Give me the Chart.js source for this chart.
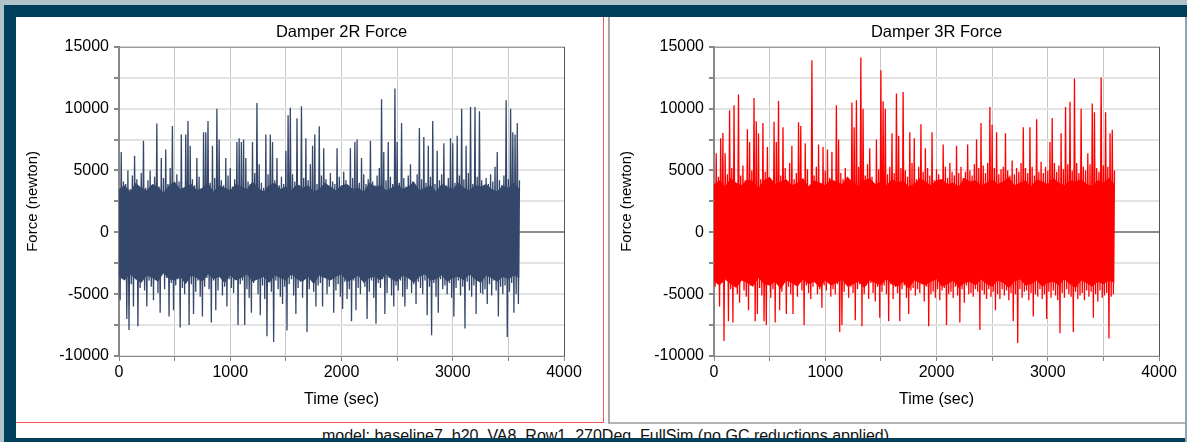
<!DOCTYPE html>
<html>
<head>
<meta charset="utf-8">
<script src="https://cdn.jsdelivr.net/npm/chart.js@4.4.1/dist/chart.umd.min.js"></script>
<style>
  html, body { margin: 0; padding: 0; }
  body {
    width: 1187px; height: 442px; position: relative; overflow: hidden;
    background: #afc3cb; font-family: "Liberation Sans", Arial, sans-serif;
  }
  #frame { position: absolute; left: 4px; top: 5px; width: 1183px; height: 437px; background: #003f5a; }
  #sheet { position: absolute; left: 16px; top: 17px; width: 1169px; height: 421px; background: #fff; overflow: hidden; }
  #edge { position: absolute; left: 1185px; top: 17px; width: 2px; height: 425px; background: #8ea7b3; }
  .panel { position: absolute; top: 0; height: 405px; }
  #p1 { left: 0; width: 587px; border-right: 1px solid #f25a5a; border-bottom: 1px solid #f25a5a; }
  #p2 { left: 592px; width: 577px; border-left: 2px solid #a8a8a8; border-bottom: 2px solid #b4b4b4; }
  .panel canvas { position: absolute; left: 0; top: 0; }
  #footer {
    position: absolute; left: 5px; width: 1169px; top: 409px; text-align: center;
    font-size: 16px; line-height: 19px; color: #111; white-space: nowrap;
  }
</style>
</head>
<body>
<div id="frame"></div>
<div id="sheet">
  <div class="panel" id="p1"><canvas id="c1" width="587" height="405"></canvas></div>
  <div class="panel" id="p2"><canvas id="c2" width="577" height="405"></canvas></div>
  <div id="footer">model: baseline7_b20_VA8_Row1_270Deg_FullSim (no GC reductions applied)</div>
</div>
<div id="edge"></div>
<script>
// Sample interval of the simulated force histories (seconds)
const sampleStep = 10;
// Interval of the dense-core envelope samples (seconds)
const bandStep = 50;

// Damper 2R force history (newton), one value per sample
const damper2R = [
  2800,-5500,6500,-3600,4100,-3000,3900,-7000,5000,-7900,
  3500,-4200,4600,-6000,6200,-3800,4300,-7600,3100,-4500,
  4800,-3300,7400,-4700,3600,-6000,4200,-3900,5000,-4400,
  3300,-5500,4500,-3500,8800,-4900,3700,-6500,6000,-3200,
  4400,-4600,6700,-3700,3900,-6800,5200,-4100,8600,-6300,
  3600,-4300,4700,-3800,4100,-7700,7900,-4500,3200,-5000,
  7900,-3600,9000,-7500,7000,-4200,4300,-6600,3800,-4800,
  6000,-3900,4500,-5200,3500,-6800,8100,-4400,8100,-3700,
  9000,-4600,4000,-7300,7000,-3900,4400,-6300,10000,-4700,
  7500,-3500,4200,-5100,3800,-4400,6000,-6000,4600,-3800,
  5200,-4500,3700,-4900,4300,-3600,7300,-7500,7600,-4200,
  7300,-3900,7500,-7500,6000,-4600,4100,-5300,3900,-6500,
  7300,-4100,4800,-3700,10460,-5000,5500,-6700,4000,-4300,
  3600,-5400,7900,-8400,4700,-4000,7900,-4800,7300,-8870,
  4200,-3900,6000,-4600,3800,-5200,4500,-5800,3900,-4400,
  6600,-7930,9460,-4200,10080,-3800,4700,-5100,4100,-6600,
  9220,-4500,3800,-4000,10190,-5300,4400,-3700,7600,-8060,
  4200,-4600,5500,-3900,7000,-4800,7900,-6000,3900,-4300,
  8570,-4100,4600,-6000,6800,-3700,4300,-5000,3600,-4400,
  4800,-3800,4100,-6500,3900,-4700,6800,-4200,4500,-5200,
  3700,-6200,4900,-4000,4200,-5400,3800,-4600,6800,-7200,
  4400,-3900,7300,-6300,7500,-4500,4000,-5000,6000,-3700,
  4700,-4400,3900,-7000,4300,-4800,7400,-3900,4100,-5300,
  3800,-7400,4600,-4100,5200,-4500,10760,-3800,6500,-6600,
  4200,-4900,7300,-3700,4500,-5100,3900,-6000,11620,-4300,
  7300,-4700,4000,-3900,8840,-5200,4400,-6000,3700,-4600,
  4600,-3800,5500,-4900,4100,-4200,3800,-5800,4700,-4000,
  8440,-4500,4300,-5000,7700,-3900,4000,-6700,7000,-4400,
  4500,-8330,9000,-4100,3900,-5200,6600,-6500,4200,-3800,
  4700,-4600,7200,-4300,3800,-5000,4400,-4100,7600,-5300,
  7200,-6800,4000,-4500,7800,-3900,4600,-5100,10000,-4400,
  4300,-7770,7000,-4000,4800,-4700,10130,-5200,3900,-4300,
  10130,-6600,4500,-3800,9790,-4900,4200,-5000,3700,-4600,
  4400,-5800,3900,-4200,4700,-5100,4100,-3900,5300,-4700,
  6500,-6800,4200,-4400,3800,-5000,4600,-4300,10680,-8470,
  4300,-4800,10000,-4100,8100,-6500,7900,-5000,8840,-5800,
  4200
];

// Damper 2R dense core: upper and lower edge of the solid band (newton)
const damper2RCoreHigh = [
  3500,3800,3300,4000,3600,3400,3900,3700,3200,3800,4100,3500,3700,3900,3400,3600,4000,3300,3800,3600,
  3400,3900,3700,3500,4100,3600,3300,3800,4000,3500,3700,3400,3900,3600,3800,3300,3500,4000,3700,3400,
  3800,3900,3500,3600,3300,4000,3700,3800,3400,3600,3900,3500,3700,4100,3400,3600,3800,3300,3900,3700,
  3500,4000,3600,3400,3800,3700,3900,3500,3300,3800,3600,4000,3500
];
const damper2RCoreLow = [
  -3600,-3900,-3400,-3800,-4100,-3500,-3700,-4000,-3300,-3800,-3900,-3600,-4200,-3500,-3700,-4000,-3400,-3800,-3600,-4100,
  -3500,-3900,-3700,-3400,-4000,-3800,-3600,-4100,-3500,-3700,-3900,-3400,-3800,-4000,-3600,-4200,-3500,-3700,-3900,-3600,
  -3400,-4000,-3800,-3500,-4100,-3700,-3600,-3900,-3400,-3800,-4000,-3500,-3700,-4100,-3600,-3400,-3900,-3800,-3500,-4000,
  -3700,-3600,-3900,-3400,-3800,-4100,-3500,-3700,-4000,-3600,-3800,-3500,-3700
];

// Damper 3R force history (newton), one value per sample
const damper3R = [
  3200,-4400,6400,-3800,4500,-6000,7600,-4100,8030,-8790,
  6400,-3900,4700,-7200,9870,-4600,5200,-7300,10270,-4200,
  3900,-5000,11140,-5700,4600,-3800,5400,-4700,4200,-5200,
  8330,-6300,7300,-4300,5000,-3900,10870,-7200,8980,-6600,
  8000,-4500,4300,-5100,8840,-7200,4900,-7500,6900,-4000,
  4400,-5300,3800,-4600,8930,-7300,7300,-4200,10620,-6300,
  4600,-4800,8500,-3900,5200,-6600,4100,-4400,5600,-5000,
  7000,-6600,4300,-4100,4800,-5200,8900,-3900,8600,-4700,
  4200,-7500,7200,-4300,5100,-4900,3800,-5400,13920,-4400,
  4600,-3800,5300,-5000,7100,-4600,4000,-6100,6900,-4300,
  5000,-4700,6700,-3900,4400,-5200,6500,-4600,3900,-5000,
  10270,-4200,7500,-8060,4800,-7500,4300,-4800,5200,-4000,
  4500,-5300,4100,-4400,10490,-4900,8500,-7100,10680,-4600,
  5300,-4200,14130,-7600,10000,-5000,4600,-4300,5500,-5400,
  6800,-4100,4500,-4900,3900,-5600,7500,-4400,5100,-6900,
  13100,-4800,10600,-4300,10000,-5000,4700,-7200,5300,-4200,
  8000,-5400,4800,-4400,11220,-4900,7800,-7200,5200,-4600,
  11350,-4300,5000,-5300,4500,-6600,8100,-4700,5600,-4500,
  7600,-5100,4300,-4600,5300,-4900,8740,-4200,4900,-5600,
  6800,-4400,5200,-7600,4600,-5000,8100,-4800,4200,-5300,
  5100,-4600,4700,-5500,4300,-4700,7100,-4500,5300,-7500,
  4400,-5000,5600,-4800,4900,-5300,4600,-4400,7000,-5100,
  4800,-7300,5300,-4600,4400,-5700,4900,-4300,7100,-5000,
  5000,-4900,4600,-5200,5500,-4600,7500,-4800,5200,-7900,
  8840,-4700,5400,-5000,4800,-5400,5600,-4600,10140,-5200,
  8700,-4800,5200,-6300,8100,-5000,4700,-5400,5100,-4600,
  5300,-5100,8000,-4700,5000,-5500,4600,-4900,5800,-7200,
  4700,-5000,5200,-8950,4900,-4600,5600,-5300,8500,-4800,
  5200,-4700,4800,-5500,8500,-4900,5300,-6800,4600,-5000,
  9140,-5200,4900,-4600,5700,-5400,4800,-5000,5300,-7000,
  5000,-4800,7300,-5300,9250,-4700,5600,-5100,4900,-5500,
  5400,-8170,8000,-4900,5100,-5300,10140,-4600,5500,-5000,
  10550,-5200,5000,-8060,12430,-4800,5600,-5400,4800,-5100,
  10000,-4900,5300,-5500,5000,-4700,6400,-5200,5500,-4800,
  10410,-6900,9700,-5000,5200,-5600,4900,-4700,12510,-5300,
  5400,-5100,9700,-4900,5300,-8580,8000,-5200,8300,-5000,
  5000
];

// Damper 3R dense core: upper and lower edge of the solid band (newton)
const damper3RCoreHigh = [
  3900,4200,3700,4400,4000,3800,4300,4100,3600,4200,4500,3900,4100,4300,3800,4000,4400,3700,4200,4000,
  3800,4300,4100,3900,4500,4000,3700,4200,4400,3900,4100,3800,4300,4000,4200,3700,3900,4400,4100,3800,
  4200,4300,3900,4000,3700,4400,4100,4200,3800,4000,4300,3900,4100,4500,3800,4000,4200,3700,4300,4100,
  3900,4400,4000,3800,4200,4100,4300,3900,3700,4200,4000,4400,3900
];
const damper3RCoreLow = [
  -4000,-4300,-3800,-4200,-4500,-3900,-4100,-4400,-3700,-4200,-4300,-4000,-4600,-3900,-4100,-4400,-3800,-4200,-4000,-4500,
  -3900,-4300,-4100,-3800,-4400,-4200,-4000,-4500,-3900,-4100,-4300,-3800,-4200,-4400,-4000,-4600,-3900,-4100,-4300,-4000,
  -3800,-4400,-4200,-3900,-4500,-4100,-4000,-4300,-3800,-4200,-4400,-3900,-4100,-4500,-4000,-3800,-4300,-4200,-3900,-4400,
  -4100,-4000,-4300,-3800,-4200,-4500,-3900,-4100,-4400,-4000,-4200,-3900,-4100
];

// Labelled ticks on each axis
const forceTickLabels = [-10000, -5000, 0, 5000, 10000, 15000];
const timeTickLabels = [0, 1000, 2000, 3000, 4000];

const FONT = '"Liberation Sans", Arial, sans-serif';

// Thin frame on the top and right of the plotting area
const plotFrame = {
  id: 'plotFrame',
  afterDatasetsDraw(chart) {
    const { ctx, chartArea: a } = chart;
    ctx.save();
    ctx.lineWidth = 1;
    ctx.strokeStyle = '#8a8a8a';
    ctx.beginPath();
    ctx.moveTo(a.left, a.top + 0.5);
    ctx.lineTo(a.right, a.top + 0.5);
    ctx.stroke();
    ctx.strokeStyle = '#555';
    ctx.beginPath();
    ctx.moveTo(a.right + 0.5, a.top);
    ctx.lineTo(a.right + 0.5, a.bottom);
    ctx.stroke();
    ctx.restore();
  }
};

const toPoints = (values, step) => values.map((v, i) => ({ x: i * step, y: v }));

function makeChart(canvasId, title, values, coreHigh, coreLow, color, leftSpace, rightSpace) {
  return new Chart(document.getElementById(canvasId), {
    type: 'line',
    data: {
      datasets: [
        {
          // solid core band, filled down to the lower edge (next dataset)
          data: toPoints(coreHigh, bandStep),
          borderWidth: 0,
          pointRadius: 0,
          backgroundColor: color,
          fill: '+1',
          tension: 0
        },
        {
          data: toPoints(coreLow, bandStep),
          borderWidth: 0,
          pointRadius: 0,
          fill: false,
          tension: 0
        },
        {
          data: toPoints(values, sampleStep),
          borderColor: color,
          borderWidth: 1.3,
          pointRadius: 0,
          fill: false,
          tension: 0
        }
      ]
    },
    options: {
      responsive: false,
      animation: false,
      parsing: false,
      events: [],
      layout: { padding: { left: 0, right: rightSpace, top: 0, bottom: 0 } },
      plugins: {
        legend: { display: false },
        tooltip: { enabled: false },
        title: {
          display: true,
          fullSize: false,
          text: title,
          color: '#000',
          font: { family: FONT, size: 16.5, weight: 'normal' },
          padding: { top: 6, bottom: 4 }
        }
      },
      scales: {
        x: {
          type: 'linear',
          min: 0, max: 4000,
          afterFit(scale) { scale.height = 66; },
          border: { display: true, color: '#888', width: 1 },
          grid: { color: '#c6c6c6', lineWidth: 1, tickLength: 5, tickColor: '#888' },
          ticks: {
            stepSize: 500,
            autoSkip: false,
            maxRotation: 0,
            padding: 2,
            color: '#000',
            font: { family: FONT, size: 16 },
            callback: v => timeTickLabels.includes(v) ? String(v) : ''
          },
          title: {
            display: true,
            text: 'Time (sec)',
            color: '#000',
            font: { family: FONT, size: 16 },
            padding: { top: 0, bottom: 13 }
          }
        },
        y: {
          min: -10000, max: 15000,
          afterFit(scale) { scale.width = leftSpace; },
          border: { display: true, color: '#888', width: 2 },
          grid: {
            color: c => (c.tick && c.tick.value === 0) ? '#8c8c8c' : '#e3e3e3',
            lineWidth: 2,
            tickLength: 5,
            tickColor: '#888'
          },
          ticks: {
            stepSize: 2500,
            autoSkip: false,
            padding: 5,
            color: '#000',
            font: { family: FONT, size: 16 },
            callback: v => forceTickLabels.includes(v) ? String(v) : ''
          },
          title: {
            display: true,
            text: 'Force (newton)',
            color: '#000',
            font: { family: FONT, size: 15 },
            padding: { top: 8, bottom: 0 }
          }
        }
      }
    },
    plugins: [plotFrame]
  });
}

makeChart('c1', 'Damper 2R Force', damper2R, damper2RCoreHigh, damper2RCoreLow, '#344669', 103, 39);
makeChart('c2', 'Damper 3R Force', damper3R, damper3RCoreHigh, damper3RCoreLow, '#ff0000', 104, 28);
</script>
</body>
</html>
